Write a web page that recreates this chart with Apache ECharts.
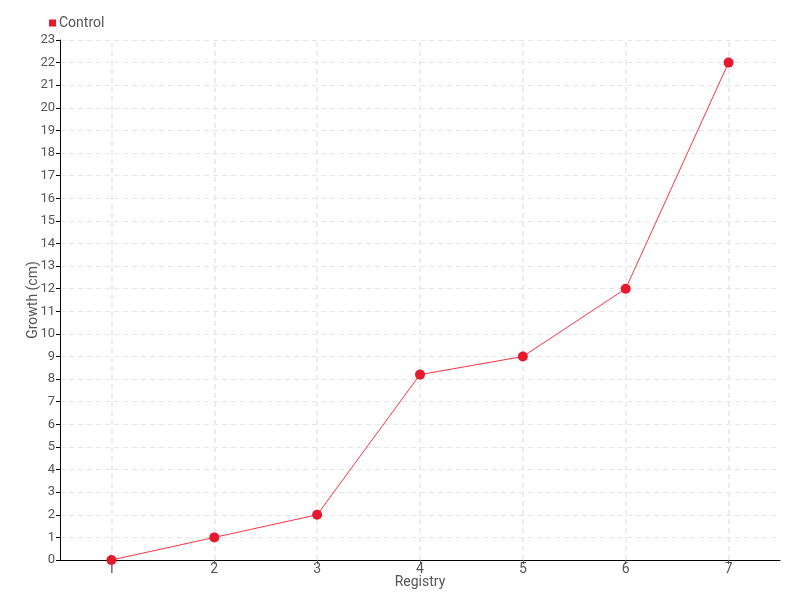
<!DOCTYPE html>
<html><head><meta charset="utf-8">
<script src="https://cdn.jsdelivr.net/npm/echarts@6/dist/echarts.min.js"></script>
<style>html,body{margin:0;padding:0;background:#fff}#c{width:800px;height:600px}</style>
</head><body><div id="c"></div>
<script>
const categories = ['1','2','3','4','5','6','7'];
const controlValues = [0, 1, 2, 8.2, 9, 12, 22];
const seriesName = 'Control';
const xName = 'Registry';
const yName = 'Growth (cm)';
const FONT = "Roboto,'Liberation Sans',sans-serif";
const chart = echarts.init(document.getElementById('c'), null, {renderer:'canvas'});
chart.setOption({
  animation:false,
  textStyle:{fontFamily:FONT},
  legend:{show:true,left:44,top:11,itemWidth:7,itemHeight:7,itemGap:4,icon:'rect',
    textStyle:{fontFamily:FONT,fontSize:14,color:'#555',padding:[0,0,0,-2]},data:[seriesName]},
  grid:{left:60,right:20,top:40,bottom:40},
  xAxis:{type:'category',data:categories,boundaryGap:true,
    name:xName,nameLocation:'middle',nameGap:15,nameMoveOverlap:false,nameTextStyle:{fontFamily:FONT,fontSize:14,color:'#555'},
    axisLine:{lineStyle:{color:'#000',width:1}},
    axisTick:{show:true,alignWithLabel:true,length:4,lineStyle:{color:'#555'}},
    axisLabel:{fontFamily:FONT,fontSize:14,color:'#555',margin:2},
    splitLine:{show:false}},
  yAxis:{type:'value',min:0,max:23,interval:1,
    name:yName,nameLocation:'middle',nameGap:20,nameMoveOverlap:false,nameTextStyle:{fontFamily:FONT,fontSize:14,color:'#555'},
    axisLine:{show:true,lineStyle:{color:'#000',width:1}},
    axisTick:{show:true,length:4,lineStyle:{color:'#000'}},
    axisLabel:{fontFamily:FONT,fontSize:13,color:'#555',margin:5},
    splitLine:{show:true,lineStyle:{type:[5,4],color:'#e6e6e6'}}},
  series:[{name:seriesName,type:'line',data:controlValues,
    symbol:'circle',symbolSize:10,
    itemStyle:{color:'#e8192c'},
    lineStyle:{color:'#ff3344',width:1},
    markLine:{silent:true,symbol:['none','none'],z:0,label:{show:false},
      lineStyle:{type:[5,4],color:'#e6e6e6',width:1.5},
      data:categories.map(c=>({xAxis:c}))}}]
});
</script></body></html>
